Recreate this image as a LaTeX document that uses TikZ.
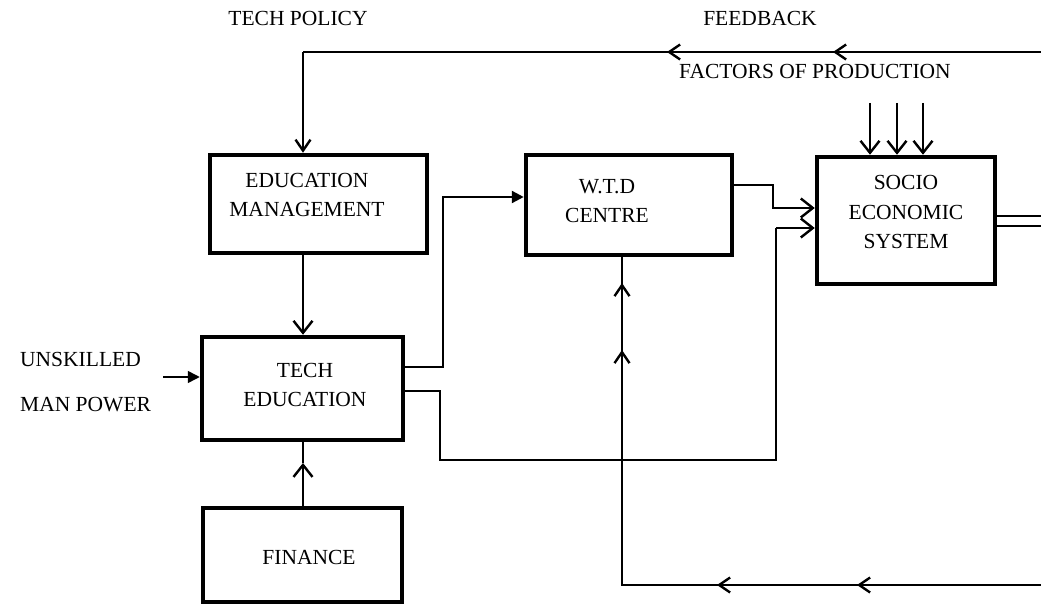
\documentclass[tikz,border=0pt]{standalone}
\usepackage{fontspec}
\setmainfont{Liberation Serif}
\usepackage{tikz}
\usetikzlibrary{arrows.meta}

\tikzset{
    blk/.style = {draw, line width=4.5pt, inner sep=0pt},
    lbl/.style = {align=center, inner sep=0pt, font=\fontsize{21.5}{29.5}\selectfont},
    thn/.style = {line width=1.5pt},
    thk/.style = {line width=2.4pt},
    vee/.style = {-{Straight Barb[length=12pt, width=19pt, line width=2.4pt]}},
    veesm/.style = {-{Straight Barb[length=11pt, width=15pt, line width=2.4pt]}},
    tri/.style = {-{Triangle[length=12pt, width=12pt]}},
}

\begin{document}
\begin{tikzpicture}[x=1pt, y=-1pt]
    \useasboundingbox (0, 0) rectangle (1041, 604);
    % boxes
    \node[blk, minimum width=217pt, minimum height=98pt] (em) at (318.5, 204) {};
    \node[blk, minimum width=201pt, minimum height=103pt] (te) at (302.5, 388.5) {};
    \node[blk, minimum width=199pt, minimum height=94pt] (fin) at (302.5, 555) {};
    \node[blk, minimum width=206pt, minimum height=100pt] (wtd) at (629, 205) {};
    \node[blk, minimum width=178pt, minimum height=127pt] (soc) at (906, 220.5) {};
    % texts
    \node[lbl] (emtxt) at (307, 195) {EDUCATION\\MANAGEMENT};
    \node[lbl] (tetxt) at (305, 385) {TECH\\EDUCATION};
    \node[lbl] (fintxt) at (309, 557) {FINANCE};
    \node[lbl] (wtdtxt) at (607, 201) {W.T.D\\CENTRE};
    \node[lbl] (soctxt) at (906, 212) {SOCIO\\ECONOMIC\\SYSTEM};
    \node[lbl] (policy) at (298, 18) {TECH POLICY};
    \node[lbl] (fback) at (760, 18) {FEEDBACK};
    \node[lbl] (factors) at (815, 71) {FACTORS OF PRODUCTION};
    \node[lbl, align=left, anchor=west] (unsk) at (20, 382) {UNSKILLED\\[15pt]MAN POWER};
    % feedback loop on top
    \coordinate (fbin) at (1041, 52);
    \coordinate (fbcorner) at (303, 52);
    \draw[thn] (fbin) -- (fbcorner);
    \draw[thk, veesm] (fbcorner) -- (fbcorner |- em.north);
    \draw[thk, veesm] (700, 52) -- (667, 52);
    \draw[thk, veesm] (882, 52) -- (833, 52);
    % education management -> tech education
    \draw[thk, vee] (fbcorner |- em.south) -- (fbcorner |- te.north);
    % finance -> tech education
    \coordinate (finmid) at (303, 463);
    \draw[thk, vee] (fbcorner |- fin.north) -- (finmid);
    \draw[thk] (finmid) -- (fbcorner |- te.south);
    % unskilled man power
    \coordinate (usin) at (163, 377);
    \draw[thn, tri] (usin) -- (usin -| te.west);
    % tech education -> w.t.d centre
    \coordinate (tw) at (443, 197);
    \draw[thn] ([yshift=21.5pt]te.east) -| (tw) -- (478, 197);
    \draw[thk, tri] (478, 197) -- (tw -| wtd.west);
    % tech education -> socio economic system
    \coordinate (tb) at (440, 460);
    \coordinate (ts) at (776, 228);
    \draw[thn] ([yshift=-2.5pt]te.east) -| (tb) -| (ts);
    \draw[thk, vee] (ts) -- (ts -| soc.west);
    % w.t.d centre -> socio economic system
    \coordinate (ws) at (773, 185);
    \coordinate (ws2) at (773, 208);
    \draw[thk, vee] (ws -| wtd.east) -- (ws) -- (ws2) -- (ws2 -| soc.west);
    % factors of production
    \coordinate (fp1) at (870, 103);
    \coordinate (fp2) at (897, 103);
    \coordinate (fp3) at (923, 103);
    \draw[thk, vee] (fp1) -- (fp1 |- soc.north);
    \draw[thk, vee] (fp2) -- (fp2 |- soc.north);
    \draw[thk, vee] (fp3) -- (fp3 |- soc.north);
    % output of socio economic system
    \coordinate (so1) at (1041, 216);
    \coordinate (so2) at (1041, 226);
    \draw[thn] (so1 -| soc.east) -- (so1);
    \draw[thn] (so2 -| soc.east) -- (so2);
    % feedback loop at the bottom
    \coordinate (fbbot) at (1041, 585);
    \coordinate (bcorner) at (622, 585);
    \draw[thn] (fbbot) -- (bcorner) -- (bcorner |- wtd.south);
    \draw[thk, veesm] (763, 585) -- (717, 585);
    \draw[thk, veesm] (903, 585) -- (857, 585);
    \draw[thk, veesm] (622, 330) -- (622, 283);
    \draw[thk, veesm] (622, 395) -- (622, 350);
\end{tikzpicture}
\end{document}
